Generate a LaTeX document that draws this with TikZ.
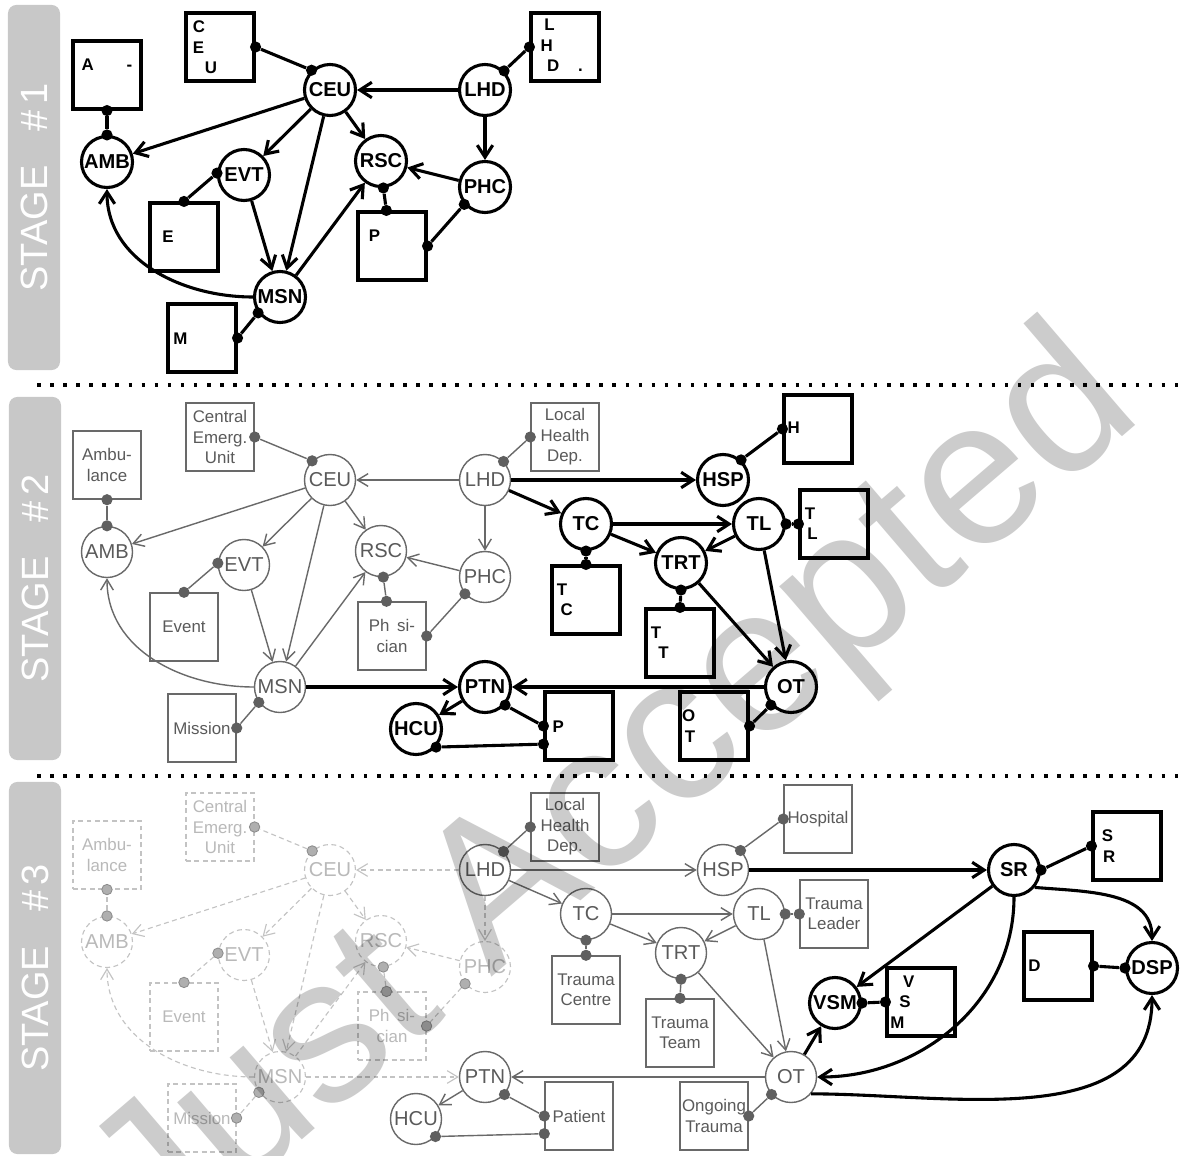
\documentclass[tikz,border=0pt]{standalone}
\usepackage{fontspec}
\setmainfont{Liberation Sans}
\usetikzlibrary{arrows.meta}

\definecolor{gline}{RGB}{105,105,105}
\definecolor{gtxt}{RGB}{90,90,90}
\definecolor{gpinc}{RGB}{95,95,95}
\definecolor{fline}{RGB}{195,195,195}
\definecolor{ftxt}{RGB}{185,185,185}
\definecolor{fpinc}{RGB}{175,175,175}
\definecolor{fpinl}{RGB}{140,140,140}
\definecolor{barcol}{RGB}{200,200,200}
\definecolor{wmcol}{RGB}{204,204,204}

% initials only (stage drawn in black) or the whole word
\newif\ifshort
\newcommand{\bt}[2]{\ifshort\textbf{#1}\phantom{#2}\else#1#2\fi}

\tikzset{
  bk node/.style={circle, draw=black, line width=2.2pt, fill=white, minimum size=1.275cm, inner sep=0pt, font=\bfseries\fontsize{14.3}{16}\selectfont},
  bk box/.style={rectangle, draw=black, line width=2.2pt, fill=white, minimum width=1.7cm, minimum height=1.7cm, inner sep=0pt, align=center, font=\fontsize{12}{14.6}\selectfont},
  bk pin/.style={circle, fill=black, inner sep=0pt, minimum size=0.28cm},
  bk link/.style={draw=black, line width=2.2pt},
  bk arr/.style={draw=black, line width=2.2pt, -{Straight Barb[length=8.5pt,width=11pt]}},
  gy node/.style={circle, draw=gline, line width=1pt, fill=white, text=gtxt, minimum size=1.275cm, inner sep=0pt, font=\fontsize{14.3}{16}\selectfont},
  gy box/.style={rectangle, draw=gline, line width=1pt, fill=white, text=gtxt, minimum width=1.7cm, minimum height=1.7cm, inner sep=0pt, align=center, font=\fontsize{12}{14.6}\selectfont},
  gy pin/.style={circle, fill=gpinc, inner sep=0pt, minimum size=0.28cm},
  gy link/.style={draw=gline, line width=1pt},
  gy arr/.style={draw=gline, line width=1pt, -{Straight Barb[length=7.5pt,width=9pt]}},
  fd dash/.style={dash pattern=on 3.5pt off 2.5pt},
  fd node/.style={gy node, draw=fline, text=ftxt, line width=0.8pt, fd dash},
  fd box/.style={gy box, draw=fline, text=ftxt, line width=0.8pt, fd dash},
  fd pin/.style={circle, fill=fpinc, draw=fpinl, line width=0.6pt, inner sep=0pt, minimum size=0.26cm},
  fd link/.style={draw=fline, line width=0.8pt, fd dash},
  fd arr/.style={gy arr, draw=fline, line width=0.8pt, fd dash},
  black net/.style={vnode/.style={bk node}, vbox/.style={bk box}, vpin/.style={bk pin}, vlink/.style={bk link}, varr/.style={bk arr},
    lnode/.style={bk node}, lbox/.style={bk box}, lpin/.style={bk pin}, llink/.style={bk link}, xarr/.style={bk arr}},
  gray net/.style={vnode/.style={gy node}, vbox/.style={gy box}, vpin/.style={gy pin}, vlink/.style={gy link}, varr/.style={gy arr},
    lnode/.style={gy node}, lbox/.style={gy box}, lpin/.style={gy pin}, llink/.style={gy link}, xarr/.style={gy arr}},
  faded net/.style={vnode/.style={fd node}, vbox/.style={fd box}, vpin/.style={fd pin}, vlink/.style={fd link}, varr/.style={fd arr},
    lnode/.style={gy node}, lbox/.style={gy box}, lpin/.style={gy pin}, llink/.style={gy link}, xarr/.style={fd arr}},
  stagebar/.style={rectangle, rounded corners=6pt, fill=barcol, text=white, rotate=90, minimum height=1.3cm, inner sep=0pt, font=\fontsize{27}{27}\selectfont},
  sepline/.style={line width=2.5pt, dash pattern=on 2.5pt off 6.8pt},
  wmark/.style={text=wmcol, inner sep=0pt, font=\fontsize{147}{147}\selectfont},
}

% the network of stage 1
\newcommand{\oldnet}[1]{%
  \node[vnode] (CEU#1) at (330,90) {CEU};
  \node[lnode] (LHD#1) at (485,90) {LHD};
  \node[vnode] (AMB#1) at (107,162) {AMB};
  \node[vnode] (EVT#1) at (244,175) {EVT};
  \node[vnode] (RSC#1) at (381,161) {RSC};
  \node[vnode] (PHC#1) at (485,187) {PHC};
  \node[vnode] (MSN#1) at (280,297) {MSN};
  \node[vbox] (bAMB#1) at (107,75) {\bt{A}{mbu}\bt{-}{}\\\bt{}{lance}};
  \node[vbox] (bCEU#1) at (220,47) {\bt{C}{entral}\\\bt{E}{merg.}\\\bt{U}{nit}};
  \node[lbox] (bLHD#1) at (565,47) {\bt{L}{ocal}\\\bt{H}{ealth}\\\bt{D}{ep}\bt{.}{}};
  \node[vbox] (bEVT#1) at (184,237) {\bt{E}{vent}};
  \node[vbox] (bRSC#1) at (392,246) {\bt{P}{h\hspace{0.45em}si-}\\\bt{}{cian}};
  \node[vbox] (bMSN#1) at (202,338) {\bt{M}{ission}};
  \draw[varr] (LHD#1) -- (CEU#1);
  \draw[varr] (LHD#1) -- (PHC#1);
  \draw[varr] (CEU#1) -- (AMB#1);
  \draw[varr] (CEU#1) -- (EVT#1);
  \draw[varr] (CEU#1) -- (MSN#1);
  \draw[varr] (CEU#1) -- (RSC#1);
  \draw[varr] (EVT#1) -- (MSN#1);
  \draw[varr] (MSN#1) -- (RSC#1);
  \draw[varr] (PHC#1) -- (RSC#1);
  \draw[varr] (MSN#1) to[out=180,in=-90] (AMB#1);
  \node[vpin] (pAMB#1) at (AMB#1.north) {};
  \node[vpin] (qAMB#1) at (bAMB#1.south) {};
  \node[vpin] (pCEU#1) at (CEU#1.133) {};
  \node[vpin] (qCEU#1) at (bCEU#1.east) {};
  \node[lpin] (pLHD#1) at (LHD#1.45) {};
  \node[lpin] (qLHD#1) at (bLHD#1.west) {};
  \node[vpin] (pEVT#1) at (EVT#1.176) {};
  \node[vpin] (qEVT#1) at (bEVT#1.north) {};
  \node[vpin] (pRSC#1) at (RSC#1.-85) {};
  \node[vpin] (qRSC#1) at (bRSC#1.99) {};
  \node[vpin] (pPHC#1) at (PHC#1.220) {};
  \node[vpin] (rRSC#1) at (bRSC#1.east) {};
  \node[vpin] (pMSN#1) at (MSN#1.216) {};
  \node[vpin] (qMSN#1) at (bMSN#1.east) {};
  \draw[vlink] (pAMB#1) -- (qAMB#1);
  \draw[vlink] (pCEU#1) -- (qCEU#1);
  \draw[llink] (pLHD#1) -- (qLHD#1);
  \draw[vlink] (pEVT#1) -- (qEVT#1);
  \draw[vlink] (pRSC#1) -- (qRSC#1);
  \draw[vlink] (pPHC#1) -- (rRSC#1);
  \draw[vlink] (pMSN#1) -- (qMSN#1);
}

% the trauma part added in stage 2
\newcommand{\traumanet}[1]{%
  \node[vnode] (HSP#1) at (723,90) {HSP};
  \node[vnode] (TC#1) at (586,134) {TC};
  \node[vnode] (TL#1) at (759,134) {TL};
  \node[vnode] (TRT#1) at (681,173) {TRT};
  \node[vnode] (OT#1) at (791,297) {OT};
  \node[vnode] (PTN#1) at (485,297) {PTN};
  \node[vnode] (HCU#1) at (416,339) {HCU};
  \node[vbox] (bHSP#1) at (818,39) {\bt{H}{ospital}};
  \node[vbox] (bTC#1) at (586,210) {\bt{T}{rauma}\\\bt{C}{entre}};
  \node[vbox] (bTL#1) at (834,134) {\bt{T}{rauma}\\\bt{L}{eader}};
  \node[vbox] (bTRT#1) at (680,253) {\bt{T}{rauma}\\\bt{T}{eam}};
  \node[vbox] (bOT#1) at (714,336) {\bt{O}{ngoing}\\\bt{T}{rauma}};
  \node[vbox] (bPTN#1) at (579,336) {\bt{P}{atient}};
  \draw[varr] (LHD#1) -- (HSP#1);
  \draw[varr] (LHD#1) -- (TC#1);
  \draw[varr] (TC#1) -- (TL#1);
  \draw[varr] (TC#1) -- (TRT#1);
  \draw[varr] (TL#1) -- (TRT#1);
  \draw[varr] (TL#1) -- (OT#1);
  \draw[varr] (TRT#1) -- (OT#1);
  \draw[varr] (OT#1) -- (PTN#1);
  \draw[xarr] (MSN#1) -- (PTN#1);
  \draw[varr] (PTN#1) -- (HCU#1);
  \node[vpin] (pHSP#1) at (HSP#1.48) {};
  \node[vpin] (qHSP#1) at (bHSP#1.west) {};
  \node[vpin] (pTC#1) at (TC#1.south) {};
  \node[vpin] (qTC#1) at (bTC#1.north) {};
  \node[vpin] (pTL#1) at (TL#1.east) {};
  \node[vpin] (qTL#1) at (bTL#1.west) {};
  \node[vpin] (pTRT#1) at (TRT#1.south) {};
  \node[vpin] (qTRT#1) at (bTRT#1.north) {};
  \node[vpin] (pOT#1) at (OT#1.222) {};
  \node[vpin] (qOT#1) at (bOT#1.east) {};
  \node[vpin] (pPTN#1) at (PTN#1.318) {};
  \node[vpin] (qPTN#1) at (bPTN#1.west) {};
  \node[vpin] (pHCU#1) at (HCU#1.318) {};
  \node[vpin] (rPTN#1) at (bPTN#1.207) {};
  \draw[vlink] (pHSP#1) -- (qHSP#1);
  \draw[vlink] (pTC#1) -- (qTC#1);
  \draw[vlink] (pTL#1) -- (qTL#1);
  \draw[vlink] (pTRT#1) -- (qTRT#1);
  \draw[vlink] (pOT#1) -- (qOT#1);
  \draw[vlink] (pPTN#1) -- (qPTN#1);
  \draw[vlink] (pHCU#1) -- (rPTN#1);
}

\begin{document}
\begin{tikzpicture}[x=0.025cm, y=-0.025cm]
  \fill[white] (0,0) rectangle (1184,1156);
  \useasboundingbox (0,0) rectangle (1184,1156);

  % stage labels and separators
  \node[stagebar, minimum width=9.125cm] (stage1) at (34,187.5) {STAGE\hspace{0.9em}\#\hspace{0.15em}1};
  \node[stagebar, minimum width=9.075cm] (stage2) at (35,578.5) {STAGE\hspace{0.9em}\#\hspace{0.15em}2};
  \node[stagebar, minimum width=9.3cm] (stage3) at (35,968) {STAGE\hspace{0.9em}\#\hspace{0.15em}3};
  \draw[sepline] (37,385) -- (1184,385);
  \draw[sepline] (37,776) -- (1184,776);

  % stage 1
  \begin{scope}[black net]
    \shorttrue
    \oldnet{a}
  \end{scope}

  % stage 2
  \begin{scope}[shift={(0,390)}, gray net]
    \shortfalse
    \oldnet{b}
  \end{scope}
  \begin{scope}[shift={(0,390)}, black net]
    \shorttrue
    \traumanet{b}
  \end{scope}

  % stage 3
  \begin{scope}[shift={(0,780)}, faded net]
    \shortfalse
    \oldnet{c}
  \end{scope}
  \begin{scope}[shift={(0,780)}, gray net, xarr/.style={fd arr}]
    \shortfalse
    \traumanet{c}
  \end{scope}
  \begin{scope}[shift={(0,780)}, black net]
    \node[vnode] (SRc) at (1014,90) {SR};
    \node[vnode] (DSPc) at (1152,188) {DSP};
    \node[vnode] (VSMc) at (835,223) {VSM};
    \node[vbox] (bSRc) at (1127,66) {\textbf{S}\makebox[2.3em]{}\\\textbf{R}\makebox[2.1em]{}};
    \node[vbox] (bDSPc) at (1058,186) {\textbf{D}\makebox[2.8em]{}};
    \node[vbox] (bVSMc) at (921,222) {\textbf{V}\makebox[1.45em]{}\\\textbf{S}\makebox[1.9em]{}\\\textbf{M}\makebox[2.8em]{}};
    \draw[varr] (HSPc) -- (SRc);
    \draw[varr] (SRc) -- (VSMc);
    \draw[varr] (OTc) -- (VSMc);
    \draw[varr] (SRc.-40) to[out=-5,in=90] (DSPc.north);
    \draw[varr] (SRc) to[out=-90,in=0] (OTc);
    \draw[varr] (OTc.-40) to[out=0,in=-90] (DSPc.south);
    \node[vpin] (pSRc) at (SRc.east) {};
    \node[vpin] (qSRc) at (bSRc.west) {};
    \node[vpin] (pDSPc) at (DSPc.west) {};
    \node[vpin] (qDSPc) at (bDSPc.east) {};
    \node[vpin] (pVSMc) at (VSMc.east) {};
    \node[vpin] (qVSMc) at (bVSMc.west) {};
    \draw[vlink] (pSRc) -- (qSRc);
    \draw[vlink] (pDSPc) -- (qDSPc);
    \draw[vlink] (pVSMc) -- (qVSMc);
  \end{scope}

  % watermark
  \begin{scope}[blend mode=multiply]
    \node[wmark, rotate=40.6, anchor=base west] (wm) at (160,1262) {Just Accepted};
  \end{scope}
\end{tikzpicture}
\end{document}
